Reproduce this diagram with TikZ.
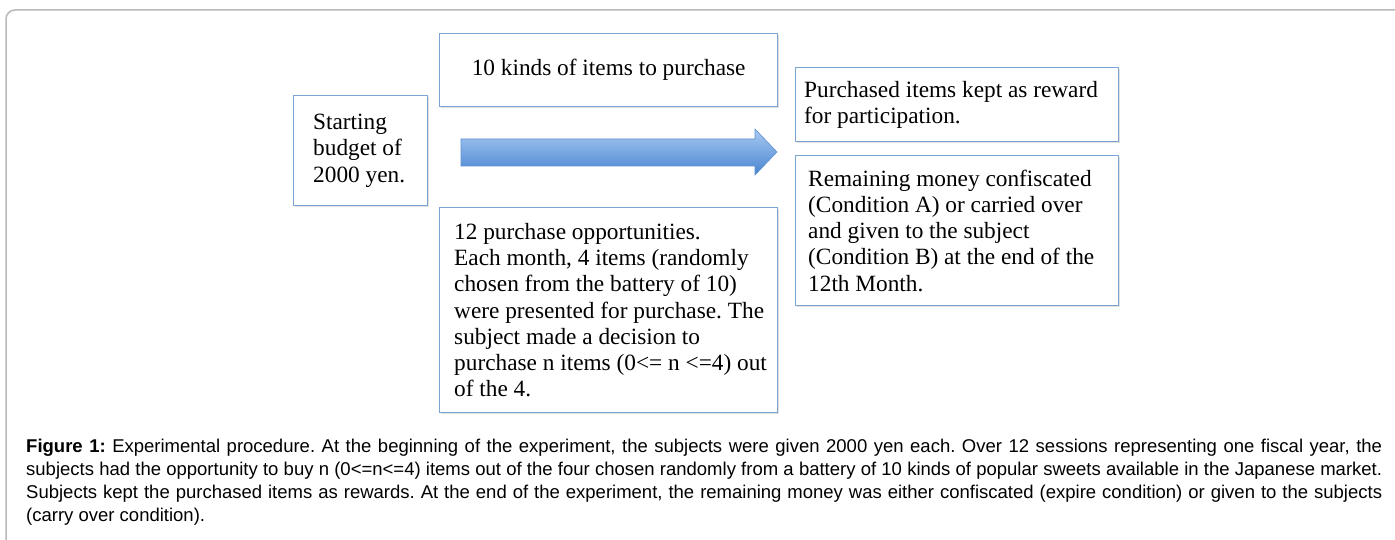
\documentclass[tikz,border=0pt]{standalone}
\usepackage{fontspec}
\setmainfont{Liberation Serif}
\newfontfamily\capfont{Liberation Sans}
\usetikzlibrary{shadows}
\definecolor{boxblue}{RGB}{125,162,212}
\definecolor{framegray}{RGB}{185,185,185}
\definecolor{arrtop}{RGB}{168,202,242}
\definecolor{arrbot}{RGB}{72,132,208}
\definecolor{arredge}{RGB}{95,145,210}
\begin{document}
\frenchspacing
\begin{tikzpicture}[x=1pt,y=-1pt,
  box/.style={draw=boxblue, line width=1.3pt, fill=white, rectangle, inner sep=0pt, anchor=north west,
    drop shadow={shadow xshift=1pt, shadow yshift=-1.5pt, opacity=0.2, fill=black!60}},
  boxtext/.style={anchor=west, align=left, inner sep=0pt, font=\fontsize{23.3}{26.2}\selectfont},
  captext/.style={anchor=north west, align=left, inner sep=0pt, font=\capfont\fontsize{18.5}{23}\selectfont}]
\useasboundingbox (0,0) rectangle (1395,540);
\fill[white] (0,0) rectangle (1395,540);
\draw[framegray, line width=1.5pt, rounded corners=9pt] (6,541) -- (6,10) -- (1396,10);

% boxes
\node[box, minimum width=338pt, minimum height=73pt] (kinds) at (439,33) {};
\node[box, minimum width=134pt, minimum height=110pt] (start) at (293,95) {};
\node[box, minimum width=338pt, minimum height=205pt] (opp) at (439,207) {};
\node[box, minimum width=323pt, minimum height=74pt] (kept) at (795,67) {};
\node[box, minimum width=323pt, minimum height=150pt] (remain) at (795,155) {};

% texts
\node[boxtext, anchor=center] (kindst) at (kinds.center) {10 kinds of items to purchase};
\node[boxtext] (startt) at ([xshift=20pt]start.west) {Starting\\budget of\\2000 yen.};
\node[boxtext] (oppt) at ([xshift=15pt]opp.west) {12 purchase opportunities.\\Each month, 4 items (randomly\\chosen from the battery of 10)\\were presented for purchase. The\\subject made a decision to\\purchase n items (0<= n <=4) out\\of the 4.};
\node[boxtext] (keptt) at ([xshift=9pt]kept.west) {Purchased items kept as reward\\for participation.};
\node[boxtext] (remaint) at ([xshift=13pt]remain.west) {Remaining money confiscated\\(Condition A) or carried over\\and given to the subject\\(Condition B) at the end of the\\12th Month.};

% block arrow
\coordinate (atail) at (461,152);
\coordinate (atip) at (777,152);
\shade[top color=arrtop, bottom color=arrbot, draw=arredge, line width=0.6pt]
  (461,139) -- (755,139) -- (755,129) -- (atip) -- (755,175) -- (755,166) -- (461,166) -- cycle;

% caption
\node[captext] (cap) at (26,439) {%
\hbox to 1356pt{\textbf{Figure 1:} Experimental procedure. At the beginning of the experiment, the subjects were given 2000 yen each. Over 12 sessions representing one fiscal year, the}\\
\hbox to 1356pt{subjects had the opportunity to buy n (0<=n<=4) items out of the four chosen randomly from a battery of 10 kinds of popular sweets available in the Japanese market.}\\
\hbox to 1356pt{Subjects kept the purchased items as rewards. At the end of the experiment, the remaining money was either confiscated (expire condition) or given to the subjects}\\
(carry over condition).};
\end{tikzpicture}
\end{document}
